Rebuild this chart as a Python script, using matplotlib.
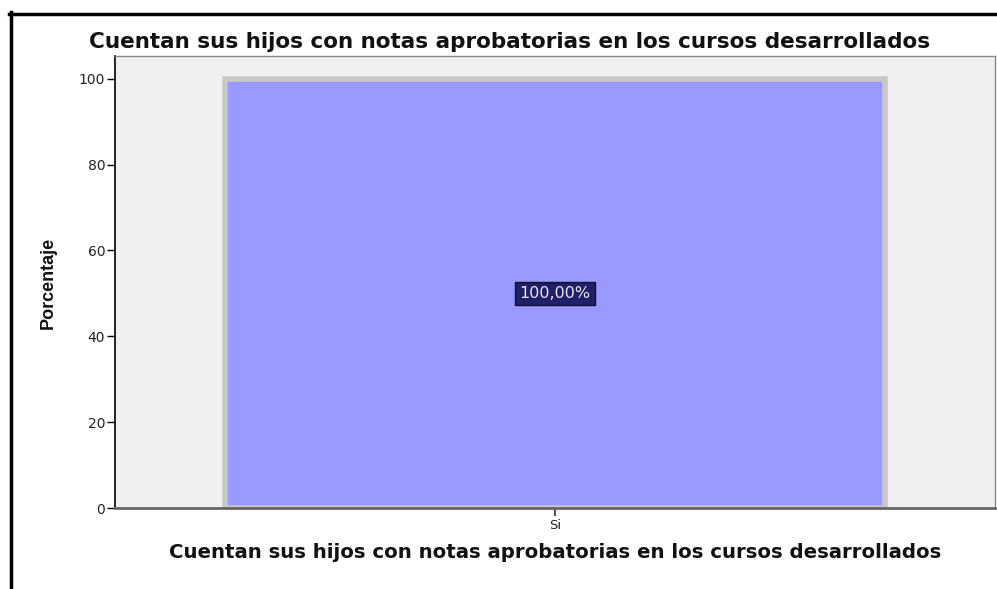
import matplotlib as mpl
mpl.use('Agg')
import matplotlib.pyplot as plt
from matplotlib.lines import Line2D

# chart data
categories = ['Si']
percentages = [100.0]
value_labels = ['100,00%']
yticks = [0, 20, 40, 60, 80, 100]

title = 'Cuentan sus hijos con notas aprobatorias en los cursos desarrollados'

plt.rcParams['font.family'] = ['DejaVu Sans']

W, H = 997, 589
fig = plt.figure(figsize=(W / 100, H / 100), dpi=100)
ax = fig.add_axes([115 / W, 1 - 508 / H, 880 / W, (508 - 56) / H])
ax.set_facecolor('#f0f0f0')

x = list(range(len(categories)))
ax.bar(x, percentages, width=0.75, color='#9999ff',
       edgecolor='#c8c8c8', linewidth=4, zorder=2)

for xi, val, lab in zip(x, percentages, value_labels):
    ax.text(xi, val / 2, lab, ha='center', va='center', fontsize=11.5,
            color='#e8e8f0', zorder=3,
            bbox=dict(boxstyle='square,pad=0.25', facecolor='#1f2068',
                      edgecolor='#101030', linewidth=1))

ax.set_xlim(-0.5, 0.5)
ax.set_ylim(0, 105.3)
ax.set_xticks(x)
ax.set_xticklabels(categories, fontsize=9.5, color='#222222')
ax.set_yticks(yticks)
ax.set_yticklabels([str(v) for v in yticks], fontsize=10, color='#222222')
ax.tick_params(axis='y', length=6, width=1, color='black', pad=1)
ax.tick_params(axis='x', length=6, width=1.5, color='#555555', pad=2)

for side in ['top', 'right']:
    ax.spines[side].set_color('#888888')
    ax.spines[side].set_linewidth(1)
ax.spines['left'].set_color('black')
ax.spines['left'].set_linewidth(1.2)
ax.spines['bottom'].set_color('#666666')
ax.spines['bottom'].set_linewidth(2)

fig.text(510 / W, 1 - 42 / H, title, ha='center', va='center',
         fontsize=15.5, fontweight='bold', color='#111111')
fig.text(555 / W, 1 - 553 / H, title, ha='center', va='center',
         fontsize=14.2, fontweight='bold', color='#111111')
fig.text(48 / W, 1 - 283 / H, 'Porcentaje', ha='center', va='center',
         rotation=90, fontsize=13, fontweight='bold', color='#111111',
         family=['Liberation Sans Narrow', 'Liberation Sans'])

# black frame on left and top of the image
fig.add_artist(Line2D([10.5 / W, 10.5 / W], [0, 1 - 12 / H],
                      color='black', linewidth=2.5))
fig.add_artist(Line2D([9 / W, 1], [1 - 13.5 / H, 1 - 13.5 / H],
                      color='black', linewidth=2.5))

fig.savefig('out.png', dpi=100)
